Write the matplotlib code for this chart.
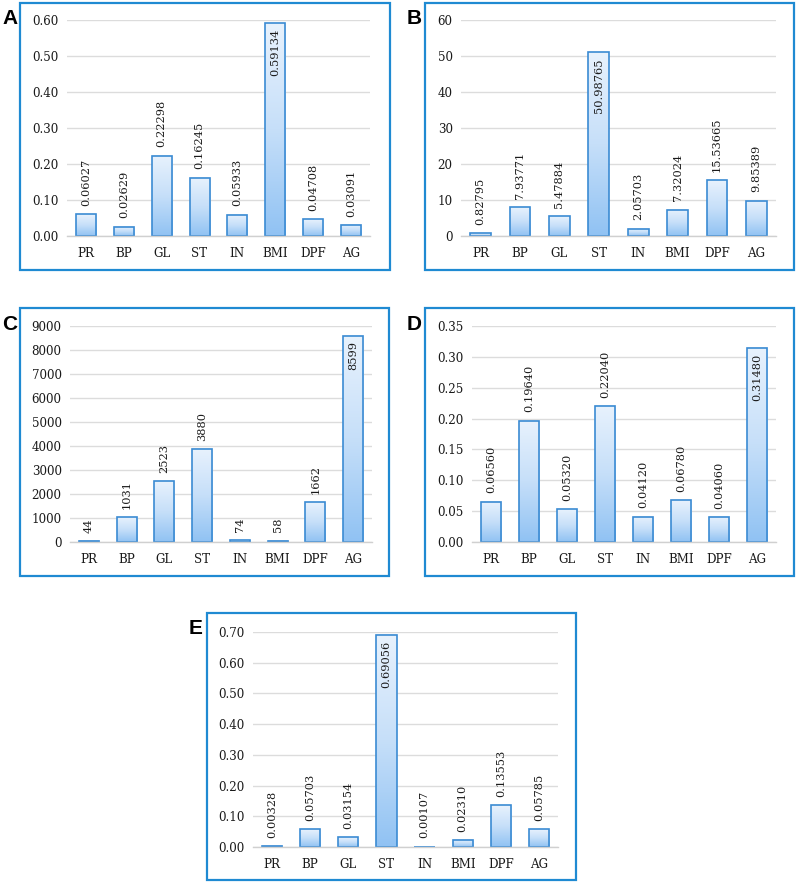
import matplotlib
matplotlib.use("Agg")
import matplotlib.pyplot as plt
import numpy as np
from matplotlib.patches import Rectangle
from matplotlib.colors import LinearSegmentedColormap

categories = ["PR", "BP", "GL", "ST", "IN", "BMI", "DPF", "AG"]

values_A = [0.06027, 0.02629, 0.22298, 0.16245, 0.05933, 0.59134, 0.04708, 0.03091]
labels_A = ["0.06027", "0.02629", "0.22298", "0.16245", "0.05933", "0.59134", "0.04708", "0.03091"]
ticks_A = [0.0, 0.1, 0.2, 0.3, 0.4, 0.5, 0.6]
ticklabels_A = ["0.00", "0.10", "0.20", "0.30", "0.40", "0.50", "0.60"]

values_B = [0.82795, 7.93771, 5.47884, 50.98765, 2.05703, 7.32024, 15.53665, 9.85389]
labels_B = ["0.82795", "7.93771", "5.47884", "50.98765", "2.05703", "7.32024", "15.53665", "9.85389"]
ticks_B = [0, 10, 20, 30, 40, 50, 60]
ticklabels_B = ["0", "10", "20", "30", "40", "50", "60"]

values_C = [44, 1031, 2523, 3880, 74, 58, 1662, 8599]
labels_C = ["44", "1031", "2523", "3880", "74", "58", "1662", "8599"]
ticks_C = [0, 1000, 2000, 3000, 4000, 5000, 6000, 7000, 8000, 9000]
ticklabels_C = [str(t) for t in ticks_C]

values_D = [0.06560, 0.19640, 0.05320, 0.22040, 0.04120, 0.06780, 0.04060, 0.31480]
labels_D = ["0.06560", "0.19640", "0.05320", "0.22040", "0.04120", "0.06780", "0.04060", "0.31480"]
ticks_D = [0.0, 0.05, 0.10, 0.15, 0.20, 0.25, 0.30, 0.35]
ticklabels_D = ["0.00", "0.05", "0.10", "0.15", "0.20", "0.25", "0.30", "0.35"]

values_E = [0.00328, 0.05703, 0.03154, 0.69056, 0.00107, 0.02310, 0.13553, 0.05785]
labels_E = ["0.00328", "0.05703", "0.03154", "0.69056", "0.00107", "0.02310", "0.13553", "0.05785"]
ticks_E = [0.0, 0.1, 0.2, 0.3, 0.4, 0.5, 0.6, 0.7]
ticklabels_E = ["0.00", "0.10", "0.20", "0.30", "0.40", "0.50", "0.60", "0.70"]

W, H = 796, 883
fig = plt.figure(figsize=(W / 100, H / 100), dpi=100)

SERIF = ["DejaVu Serif"]
BORDER = "#1f8ad2"
EDGE = "#3b8bd3"
TXT = "#1a1a1a"
cmap = LinearSegmentedColormap.from_list("barfill", ["#e8f2fd", "#c6dff9", "#90c2f3"])


def px_axes(x0, y0, x1, y1):
    return fig.add_axes([x0 / W, 1 - y1 / H, (x1 - x0) / W, (y1 - y0) / H])


def panel(letter, box, plot, values, labels, ticks, ticklabels):
    bx0, by0, bx1, by1 = box
    fig.patches.append(Rectangle((bx0 / W, 1 - by1 / H), (bx1 - bx0) / W, (by1 - by0) / H,
                                 transform=fig.transFigure, fill=False,
                                 edgecolor=BORDER, linewidth=1.6, zorder=0))
    fig.text((bx0 - 18) / W, 1 - (by0 + 16) / H, letter, fontsize=15, fontweight="bold",
             family="Liberation Sans", ha="left", va="center")
    ax = px_axes(*plot)
    x = np.arange(len(categories))
    ymax = ticks[-1]
    bars = ax.bar(x, values, width=0.53, color="none", edgecolor=EDGE, linewidth=1.2, zorder=3)
    grad = np.linspace(0, 1, 256).reshape(-1, 1)
    for b in bars:
        bx, bw, bh = b.get_x(), b.get_width(), b.get_height()
        ax.imshow(grad, cmap=cmap, aspect="auto", extent=[bx, bx + bw, 0, bh],
                  zorder=2, interpolation="bilinear", origin="upper")
    ax.set_xlim(-0.5, len(categories) - 0.5)
    ax.set_ylim(0, ymax)
    for xi, v, lab in zip(x, values, labels):
        if v > 0.7 * ymax:
            ax.annotate(lab, (xi, v), xytext=(0, -4), textcoords="offset points",
                        rotation=90, ha="center", va="top", fontsize=8.2,
                        family=SERIF, color=TXT, zorder=5)
        else:
            ax.annotate(lab, (xi, v), xytext=(0, 6), textcoords="offset points",
                        rotation=90, ha="center", va="bottom", fontsize=8.2,
                        family=SERIF, color=TXT, zorder=5)
    ax.set_yticks(ticks)
    ax.set_yticklabels(ticklabels, family=SERIF, fontsize=8.6, color=TXT)
    ax.set_xticks(x)
    ax.set_xticklabels(categories, family=SERIF, fontsize=8.6, color=TXT)
    ax.tick_params(axis="both", length=0)
    ax.tick_params(axis="x", pad=8)
    ax.tick_params(axis="y", pad=6)
    ax.grid(axis="y", color="#dcdcdc", linewidth=1.0, zorder=0)
    ax.set_axisbelow(True)
    for s in ["top", "right", "left"]:
        ax.spines[s].set_visible(False)
    ax.spines["bottom"].set_color("#d0d0d0")
    ax.spines["bottom"].set_linewidth(1.0)
    ax.spines["bottom"].set_zorder(4)
    ax.patch.set_alpha(0)
    return ax


panel("A", (20, 3, 390, 270), (67, 20, 370, 236), values_A, labels_A, ticks_A, ticklabels_A)
panel("B", (425, 3, 794, 270), (461, 20, 776, 236), values_B, labels_B, ticks_B, ticklabels_B)
panel("C", (20, 308, 389, 576), (70, 326, 372, 542), values_C, labels_C, ticks_C, ticklabels_C)
panel("D", (425, 308, 794, 576), (472, 326, 776, 542), values_D, labels_D, ticks_D, ticklabels_D)
panel("E", (207, 613, 576, 880), (253, 632, 558, 847), values_E, labels_E, ticks_E, ticklabels_E)

fig.savefig("out.png", dpi=100)
